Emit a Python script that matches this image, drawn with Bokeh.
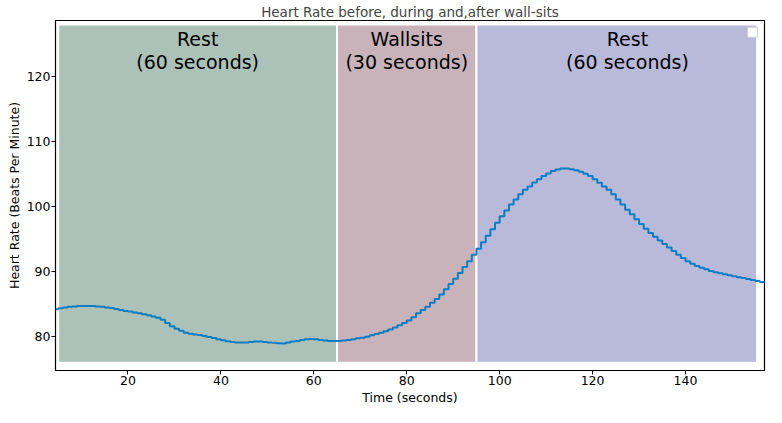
from bokeh.plotting import figure
from bokeh.models import ColumnDataSource, Range1d, FixedTicker
from bokeh.embed import file_html
from bokeh.resources import INLINE
from bokeh.core.properties import value

# ---- data ----
time_s = list(range(4, 158))
heart_rate = [
    84.2, 84.35, 84.5, 84.6, 84.65, 84.7, 84.7, 84.7, 84.7, 84.65,   # 4-13
    84.6, 84.5, 84.4, 84.25, 84.1, 83.95, 83.85, 83.7, 83.6, 83.45,  # 14-23
    83.3, 83.1, 82.9, 82.6, 82.1, 81.6, 81.2, 80.9, 80.6, 80.45,     # 24-33
    80.35, 80.25, 80.1, 79.95, 79.8, 79.6, 79.45, 79.3, 79.2, 79.1,  # 34-43
    79.1, 79.1, 79.2, 79.25, 79.25, 79.2, 79.1, 79.05, 79.0, 78.95,  # 44-53
    79.1, 79.25, 79.35, 79.5, 79.6, 79.65, 79.6, 79.5, 79.4, 79.35,  # 54-63
    79.35, 79.35, 79.4, 79.5, 79.6, 79.75, 79.85, 80.0, 80.2, 80.4,  # 64-73
    80.6, 80.85, 81.1, 81.4, 81.75, 82.1, 82.5, 83.0, 83.6, 84.1,    # 74-83
    84.6, 85.2, 85.8, 86.5, 87.3, 88.1, 88.9, 89.8, 90.7, 91.6,      # 84-93
    92.6, 93.5, 94.5, 95.5, 96.5, 97.5, 98.5, 99.4, 100.3, 101.1,    # 94-103
    101.9, 102.6, 103.1, 103.7, 104.2, 104.7, 105.1, 105.45, 105.7, 105.85,  # 104-113
    105.85, 105.75, 105.6, 105.35, 105.05, 104.7, 104.2, 103.65, 103.1, 102.6,  # 114-123
    101.9, 101.1, 100.3, 99.5, 98.8, 98.05, 97.3, 96.6, 95.95, 95.35,  # 124-133
    94.8, 94.25, 93.7, 93.15, 92.6, 92.1, 91.6, 91.2, 90.85, 90.6,   # 134-143
    90.35, 90.1, 89.9, 89.75, 89.6, 89.45, 89.3, 89.15, 89.0, 88.85, # 144-153
    88.7, 88.55, 88.4, 88.25,                                        # 154-157
]

phase_labels = ["Rest\n(60 seconds)", "Wallsits\n(30 seconds)", "Rest\n(60 seconds)"]
phase_start = [5, 65, 95]
phase_end = [65, 95, 155.4]
phase_label_x = [35, 80, 127.5]
phase_colors = ["#acc1b8", "#c9b3bb", "#b9b9da"]
band_bottom = 76
band_top = 128

x_ticks = [20, 40, 60, 80, 100, 120, 140]
y_ticks = [80, 90, 100, 110, 120]

FONT = "DejaVu Sans"
X0, X1 = 4.4, 157

p = figure(width=766, height=407, output_backend="svg", toolbar_location=None,
           x_range=Range1d(X0, X1), y_range=Range1d(74.8, 128.6),
           min_border_left=55, min_border_right=2, min_border_top=0, min_border_bottom=0,
           background_fill_color="white", border_fill_color="white")

p.title.text = "Heart Rate before, during and,after wall-sits"
p.title.align = "center"
p.title.text_font = FONT
p.title.text_font_size = "13.5px"
p.title.text_font_style = "normal"
p.title.standoff = 2
p.title.offset = 0

p.grid.visible = False
p.outline_line_color = "black"
p.outline_line_width = 1.2

# phase bands
band_src = ColumnDataSource(dict(left=phase_start, right=phase_end,
                                 bottom=[band_bottom] * 3, top=[band_top] * 3,
                                 color=phase_colors))
p.quad(left="left", right="right", bottom="bottom", top="top", source=band_src,
       fill_color="color", line_color="white", line_width=2)

# heart rate step line
p.step(x=time_s, y=heart_rate, mode="after", line_color="#0b7dc2", line_width=2)

# phase labels
lab_src = ColumnDataSource(dict(x=phase_label_x, y=[127.4] * 3, text=phase_labels))
p.text(x="x", y="y", text="text", source=lab_src, text_align="center",
       text_baseline="top", text_font=value(FONT), text_font_size="19px",
       text_color="black", text_line_height=1.05)

# empty legend box (as in the original)
p.rect(x=[154.45], y=[126.8], width=10, height=10, width_units="screen",
       height_units="screen", fill_color="white", line_color="#d0d0d0", line_width=1)

for ax in (p.xaxis[0], p.yaxis[0]):
    ax.major_label_text_font = FONT
    ax.major_label_text_font_size = "12.5px"
    ax.major_label_text_color = "black"
    ax.axis_label_text_font = FONT
    ax.axis_label_text_font_size = "12.5px"
    ax.axis_label_text_font_style = "normal"
    ax.axis_label_text_color = "black"
    ax.axis_line_color = "black"
    ax.major_tick_line_color = "black"
    ax.major_tick_out = 4
    ax.major_tick_in = 0
    ax.minor_tick_line_color = None
    ax.major_label_standoff = 1
    ax.axis_label_standoff = 2

p.xaxis.axis_label = "Time (seconds)"
p.yaxis.axis_label = "Heart Rate (Beats Per Minute)"
p.xaxis.ticker = FixedTicker(ticks=x_ticks)
p.yaxis.ticker = FixedTicker(ticks=y_ticks)

open("out.html", "w").write(file_html(p, INLINE))
